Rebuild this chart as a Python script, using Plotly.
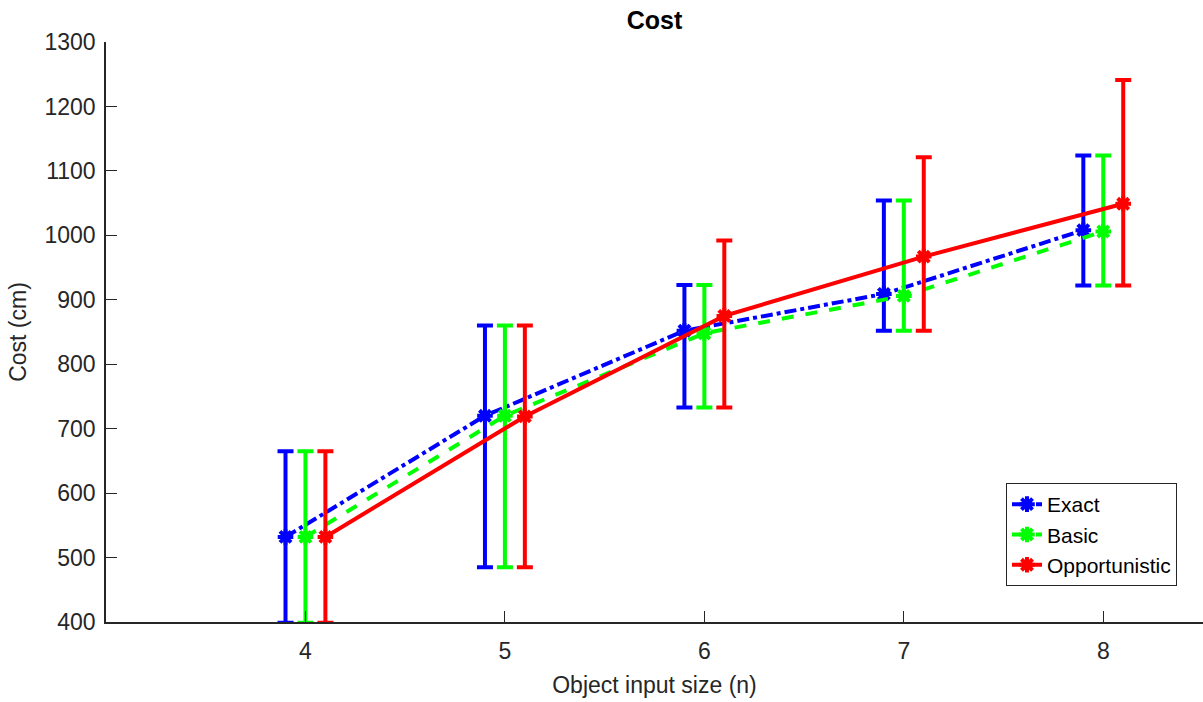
import plotly.graph_objects as go

sizes = [4, 5, 6, 7, 8]
offsets = {"Exact": -0.1, "Basic": 0.0, "Opportunistic": 0.1}

exact_mean = [532, 720, 852, 909, 1008]
exact_hi = [665, 860, 923, 1054, 1124]
exact_lo = [399, 485, 733, 852, 922]

basic_mean = [532, 720, 848, 906, 1006]
basic_hi = [665, 860, 923, 1054, 1124]
basic_lo = [399, 485, 733, 852, 922]

opp_mean = [532, 719, 875, 967, 1049]
opp_hi = [665, 860, 992, 1121, 1241]
opp_lo = [399, 485, 733, 852, 922]

series = [
    ("Exact", exact_mean, exact_hi, exact_lo, "#0000ff", "dashdot"),
    ("Basic", basic_mean, basic_hi, basic_lo, "#00ff00", "dash"),
    ("Opportunistic", opp_mean, opp_hi, opp_lo, "#ff0000", "solid"),
]

fig = go.Figure()
for name, mean, hi, lo, color, dash in series:
    xs = [s + offsets[name] for s in sizes]
    fig.add_trace(go.Scatter(
        x=xs, y=mean, name=name, mode="lines+markers",
        line=dict(color=color, width=4, dash=dash),
        marker=dict(symbol="asterisk-open", size=13, color=color,
                    line=dict(color=color, width=4)),
        error_y=dict(type="data", symmetric=False,
                     array=[h - m for h, m in zip(hi, mean)],
                     arrayminus=[m - l for m, l in zip(mean, lo)],
                     color=color, thickness=4, width=8),
    ))

axis_color = "#262626"
fig.update_layout(
    width=1203, height=702,
    margin=dict(l=106, r=0, t=42, b=80),
    paper_bgcolor="white", plot_bgcolor="white",
    font=dict(family="Liberation Sans, Arial, sans-serif", size=23, color=axis_color),
    title=dict(text="<b>Cost</b>", x=(106 + 1203) / 2 / 1203, xanchor="center",
               y=1 - 20 / 702, yanchor="middle",
               font=dict(size=25, color="black")),
    xaxis=dict(range=[3, 8.5], tickvals=sizes, ticks="inside", ticklen=11,
               tickwidth=1, tickcolor=axis_color, showline=True, linecolor=axis_color,
               linewidth=1.5, showgrid=False, zeroline=False, ticklabelstandoff=8,
               title=dict(text="Object input size (n)", font=dict(size=23), standoff=14)),
    yaxis=dict(range=[400, 1300], tickvals=list(range(400, 1301, 100)), ticks="inside",
               ticklen=11, tickwidth=1, tickcolor=axis_color, showline=True,
               linecolor=axis_color, linewidth=1.5, showgrid=False, zeroline=False,
               ticklabelstandoff=4,
               title=dict(text="Cost (cm)", font=dict(size=23), standoff=11)),
    legend=dict(x=(1177 - 106) / 1097, xanchor="right", y=(622 - 586) / 580,
                yanchor="bottom", bordercolor=axis_color, borderwidth=1,
                bgcolor="white", font=dict(size=21, color="black"),
                tracegroupgap=0, itemwidth=30),
    showlegend=True,
)

fig.write_html("out.html")
